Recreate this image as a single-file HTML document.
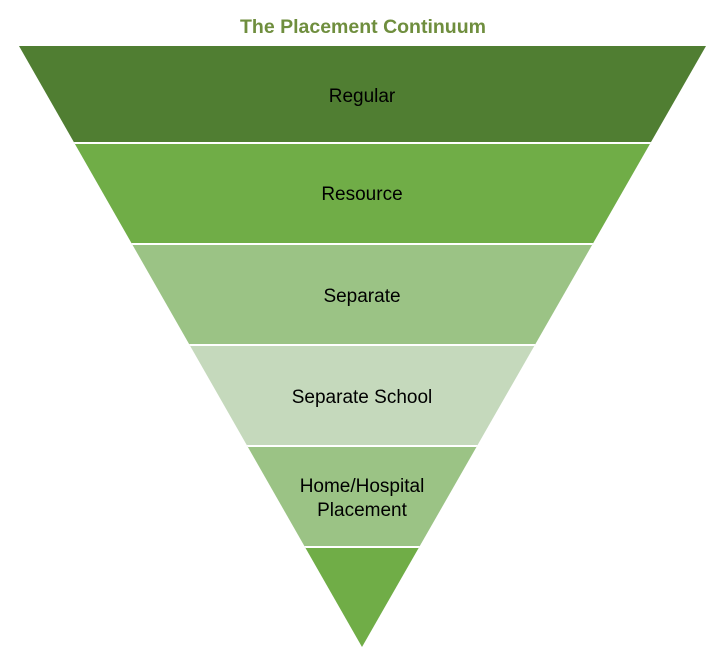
<!DOCTYPE html>
<html><head><style>
html,body{margin:0;padding:0;background:#fff;}
svg{display:block;}
text{font-family:"Liberation Sans",sans-serif;}
</style></head><body>
<svg width="718" height="658" viewBox="0 0 718 658" xmlns="http://www.w3.org/2000/svg">
<defs><clipPath id="tri"><polygon points="19,46 706,46 362,647"/></clipPath></defs>
<text x="363" y="33" text-anchor="middle" font-size="19.5" font-weight="bold" fill="#6F8E3E">The Placement Continuum</text>
<g clip-path="url(#tri)">
<rect x="0" y="46" width="718" height="97" fill="#507E32"/>
<rect x="0" y="143" width="718" height="101" fill="#70AD47"/>
<rect x="0" y="244" width="718" height="101" fill="#9BC385"/>
<rect x="0" y="345" width="718" height="101" fill="#C5D9BC"/>
<rect x="0" y="446" width="718" height="101" fill="#9BC385"/>
<rect x="0" y="547" width="718" height="101" fill="#70AD47"/>
<g fill="#fff">
<rect x="0" y="142" width="718" height="2"/>
<rect x="0" y="243" width="718" height="2"/>
<rect x="0" y="344" width="718" height="2"/>
<rect x="0" y="445" width="718" height="2"/>
<rect x="0" y="546" width="718" height="2"/>
</g>
</g>
<g font-size="19" fill="#000" text-anchor="middle">
<text x="362" y="102">Regular</text>
<text x="362" y="200">Resource</text>
<text x="362" y="302">Separate</text>
<text x="362" y="403">Separate School</text>
<text x="362" y="492">Home/Hospital</text>
<text x="362" y="516">Placement</text>
</g>
</svg>
</body></html>
